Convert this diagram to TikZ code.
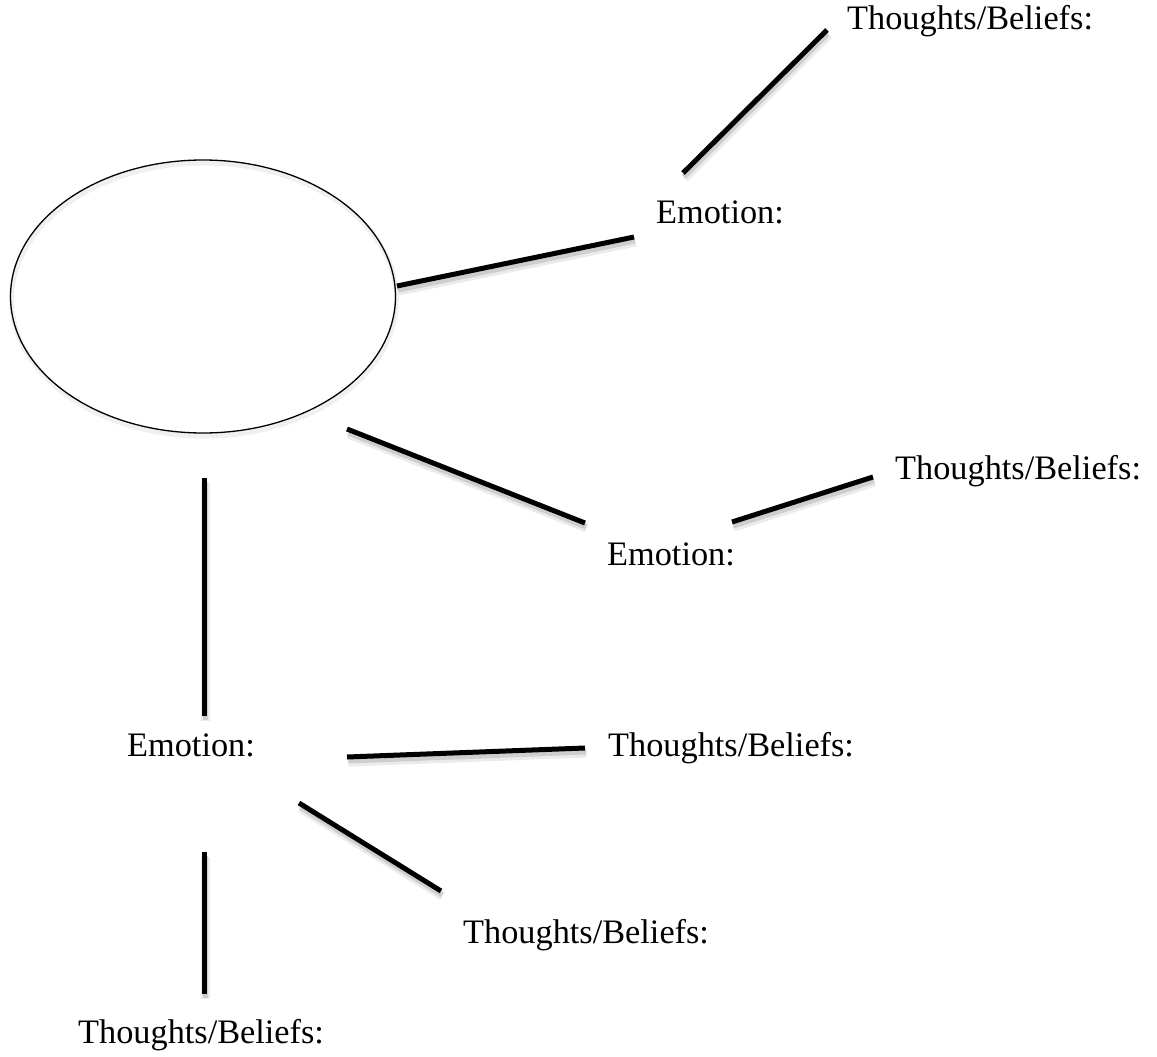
\documentclass[tikz,border=0pt]{standalone}
\usepackage{fontspec}
\usetikzlibrary{shapes.geometric}
\setmainfont{Liberation Serif}
\begin{document}
\begin{tikzpicture}[x=1pt,y=-1pt,
  lbl/.style={anchor=base west,inner sep=0pt,font=\fontsize{34.3}{38}\selectfont},
  conn/.style={line width=5pt,black,
    preaction={draw=black,opacity=0.08,line width=9pt,transform canvas={shift={(1.5pt,-5pt)}}},
    preaction={draw=black,opacity=0.12,line width=5pt,transform canvas={shift={(1pt,-4pt)}}}},
  blob/.style={draw,line width=1.3pt,
    preaction={draw=black,opacity=0.06,line width=5pt,transform canvas={shift={(1pt,-3pt)}}}}]
\useasboundingbox[fill=white] (0,0) rectangle (1157,1057);
% central ellipse
\node[blob,ellipse,minimum width=385pt,minimum height=273pt,inner sep=0pt] (E) at (203,296.5) {};
% labels
\node[lbl] (t1) at (847,30) {Thoughts/Beliefs:};
\node[lbl] (e1) at (656,223) {Emotion:};
\node[lbl] (t2) at (895,479) {Thoughts/Beliefs:};
\node[lbl] (e2) at (607,565) {Emotion:};
\node[lbl] (e3) at (127,756) {Emotion:};
\node[lbl] (t3) at (608,756) {Thoughts/Beliefs:};
\node[lbl] (t4) at (463,943) {Thoughts/Beliefs:};
\node[lbl] (t5) at (78,1043) {Thoughts/Beliefs:};
% connector end points
\coordinate (a1) at (683,173); \coordinate (b1) at (827,30);
\coordinate (a2) at (397,286); \coordinate (b2) at (634,237);
\coordinate (a3) at (347,429); \coordinate (b3) at (585,523);
\coordinate (a4) at (732,522); \coordinate (b4) at (873,477);
\coordinate (a5) at (204,478); \coordinate (b5) at (204,716);
\coordinate (a6) at (347,757); \coordinate (b6) at (585,748);
\coordinate (a7) at (299,803); \coordinate (b7) at (441,891);
\coordinate (a8) at (204,852); \coordinate (b8) at (204,994);
\foreach \i in {1,...,8} {\draw[conn] (a\i) -- (b\i);}
\end{tikzpicture}
\end{document}
